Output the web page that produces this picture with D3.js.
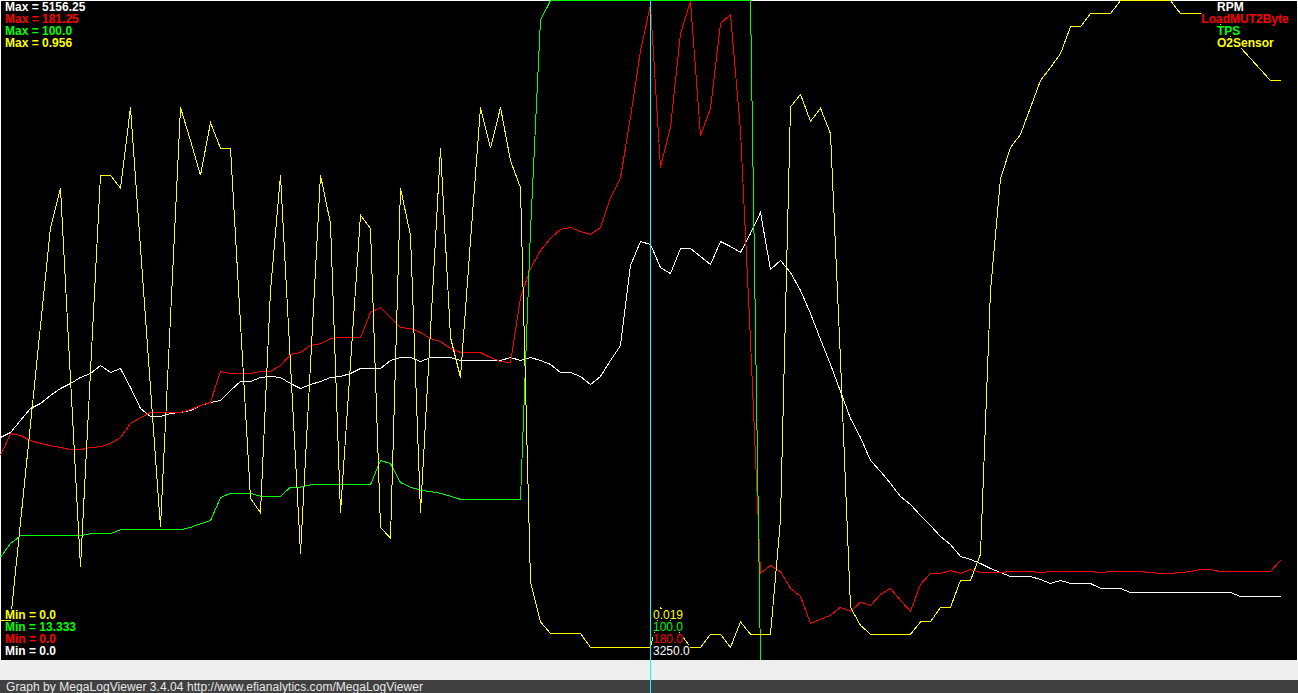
<!DOCTYPE html>
<html><head><meta charset="utf-8">
<script src="https://cdn.jsdelivr.net/npm/d3@7/dist/d3.min.js"></script>
<style>
html,body{margin:0;padding:0;background:#fff;overflow:hidden}
svg{display:block}
</style></head><body>
<svg id="chart" width="1298" height="693"></svg>
<script>
// ---- data (one sample every log record) ----
const seriesNames = ["RPM", "LoadMUT2Byte", "TPS", "O2Sensor"];
const seriesMin = [0, 0, 13.333, 0];
const seriesMax = [5156.25, 181.25, 100, 0.956];
const minLabels = ["0.0", "0.0", "13.333", "0.0"];
const maxLabels = ["5156.25", "181.25", "100.0", "0.956"];
const cursorIndex = 65;

const rpm = [1742,1781,1875,1969,2008,2070,2125,2164,2211,2242,
 2305,2250,2281,2133,1969,1906,1906,1930,1938,1953,
 1992,2016,2031,2109,2180,2180,2211,2219,2211,2164,
 2125,2156,2180,2211,2219,2242,2281,2281,2281,2344,
 2367,2367,2336,2367,2367,2367,2344,2344,2344,2344,
 2344,2367,2344,2367,2344,2313,2250,2250,2219,2156,
 2219,2344,2461,3086,3273,3250,3070,3023,3219,3219,
 3156,3094,3273,3234,3188,3336,3500,3055,3125,3031,
 2891,2711,2508,2313,2102,1891,1742,1563,1477,1383,
 1281,1219,1133,1055,969,906,813,789,758,719,
 688,656,656,656,633,602,625,602,602,602,
 563,563,563,531,531,531,531,531,531,531,
 531,531,531,531,500,500,500,500,500];

const load = [56.3,62.3,61.8,60.4,59.6,59.0,58.5,57.9,57.9,58.5,
 58.7,59.6,61.2,65.1,66.7,68.1,68.1,68.1,68.1,68.9,
 70.0,70.9,79.4,78.8,78.8,78.8,79.4,79.4,81.0,84.0,
 84.6,86.5,87.0,88.4,88.7,88.7,88.7,95.6,96.9,94.2,
 91.4,91.2,90.1,88.4,87.6,85.7,84.6,84.6,84.6,83.2,
 82.1,81.8,99.7,107.6,112.6,115.9,118.4,118.9,117.8,117.0,
 118.9,127.1,132.6,149.1,167.5,180.0,135.4,146.4,172.2,181.0,
 144.2,151.6,174.9,177.4,145.5,87.9,23.9,26.1,24.4,19.8,
 17.6,10.2,11.3,12.4,14.6,13.5,16.0,15.1,18.1,19.8,
 16.5,13.5,20.9,23.9,23.9,24.7,23.9,25.0,24.2,24.2,
 24.2,24.4,24.4,24.4,24.2,24.4,24.4,24.4,24.4,24.4,
 24.2,24.4,24.4,24.4,24.4,24.2,23.9,23.9,24.2,24.4,
 25.0,25.0,24.4,24.4,24.4,24.4,24.4,24.4,27.5];

const tps = [26.9,28.7,29.7,29.7,29.7,29.7,29.7,29.7,29.7,30.0,
 30.0,30.0,30.5,30.5,30.5,30.5,30.5,30.5,30.5,30.8,
 31.3,31.7,34.7,35.3,35.3,35.3,34.9,34.9,34.9,36.1,
 36.1,36.4,36.4,36.4,36.4,36.4,36.4,36.4,39.6,39.2,
 36.7,36.1,35.7,35.5,35.3,34.9,34.5,34.5,34.5,34.5,
 34.5,34.5,34.5,69.8,97.4,100,100,100,100,100,
 100,100,100,100,100,100,100,100,100,100,
 100,100,100,100,100,100,13.333,13.333,13.333,13.333,
 13.333,13.333,13.333,13.333,13.333,13.333,13.333,13.333,13.333,13.333,
 13.333,13.333,13.333,13.333,13.333,13.333,13.333,13.333,13.333,13.333,
 13.333,13.333,13.333,13.333,13.333,13.333,13.333,13.333,13.333,13.333,
 13.333,13.333,13.333,13.333,13.333,13.333,13.333,13.333,13.333,13.333,
 13.333,13.333,13.333,13.333,13.333,13.333,13.333,13.333,13.333];

const o2 = [0.058,0.058,0.200,0.342,0.485,0.627,0.684,0.408,0.135,0.419,
 0.703,0.703,0.684,0.801,0.598,0.395,0.193,0.497,0.801,0.753,
 0.703,0.779,0.742,0.742,0.488,0.235,0.214,0.536,0.703,0.429,
 0.155,0.429,0.703,0.633,0.214,0.430,0.645,0.626,0.193,0.177,
 0.684,0.616,0.214,0.478,0.742,0.468,0.410,0.608,0.801,0.742,
 0.801,0.724,0.685,0.114,0.056,0.039,0.039,0.039,0.039,0.019,
 0.019,0.019,0.019,0.019,0.019,0.019,0.077,0.058,0.039,0.019,
 0.019,0.038,0.038,0.019,0.056,0.038,0.038,0.038,0.204,0.802,
 0.820,0.781,0.800,0.763,0.435,0.077,0.051,0.038,0.038,0.038,
 0.038,0.038,0.056,0.056,0.077,0.077,0.116,0.116,0.154,0.536,
 0.698,0.743,0.762,0.801,0.840,0.859,0.879,0.918,0.918,0.937,
 0.937,0.937,0.956,0.956,0.956,0.956,0.956,0.956,0.937,0.937,
 0.937,0.937,0.921,0.904,0.888,0.872,0.856,0.840,0.840];

const seriesValues = [rpm, load, tps, o2];
const sampleIndex = rpm.map((d, i) => i);

// ---- drawing ----
const W = 1298, H = 693, plotH = 660, plotW = 1280;
const colors = ["#ffffff", "#ff0000", "#00ff00", "#ffff00"];
const svg = d3.select("#chart");
const FONT = "'Liberation Sans', Arial, sans-serif";

svg.append("rect").attr("x", 0).attr("y", 0).attr("width", W).attr("height", plotH).attr("fill", "#000");
svg.append("rect").attr("x", 0.5).attr("y", 0.5).attr("width", W - 1).attr("height", plotH).attr("fill", "none").attr("stroke", "#ffffff");

const x = d3.scaleLinear().domain([0, sampleIndex.length - 1]).range([0, plotW]);
const yScales = seriesNames.map((n, k) => d3.scaleLinear().domain([seriesMin[k], seriesMax[k]]).range([plotH, 0]));

const g = svg.append("g").attr("transform", "translate(0.5,0.5)");
seriesNames.forEach((n, k) => {
  const line = d3.line().x((d, i) => x(sampleIndex[i])).y(d => yScales[k](d));
  g.append("path").datum(seriesValues[k]).attr("d", line)
    .attr("fill", "none").attr("stroke", colors[k]).attr("stroke-width", 1)
    .attr("shape-rendering", "crispEdges");
});

// footer bands
svg.append("rect").attr("x", 0).attr("y", plotH).attr("width", W).attr("height", 20).attr("fill", "#efefef");
svg.append("rect").attr("x", 0).attr("y", 680).attr("width", W).attr("height", 13).attr("fill", "#404040");
svg.append("text").attr("x", 6).attr("y", 691).attr("fill", "#e8e8e8")
  .attr("textLength", 417).attr("lengthAdjust", "spacing")
  .style("font", "12px " + FONT).text("Graph by MegaLogViewer 3.4.04 http://www.efianalytics.com/MegaLogViewer");

// cursor line
const cx = Math.round(x(cursorIndex)) + 0.5;
svg.append("line").attr("x1", cx).attr("x2", cx).attr("y1", 0).attr("y2", H)
  .attr("stroke", "#00ffff").attr("stroke-width", 1).attr("shape-rendering", "crispEdges");

function label(tx, ty, txt, color, weight, anchorRight) {
  const t = svg.append("text").attr("x", tx).attr("y", ty).attr("fill", color)
    .style("font", weight + " 12px " + FONT).text(txt);
  const bb = t.node().getBBox();
  if (anchorRight !== undefined) {
    const nx = Math.min(tx, anchorRight - bb.width);
    t.attr("x", nx);
  }
  const b2 = t.node().getBBox();
  svg.insert("rect", () => t.node()).attr("x", b2.x).attr("y", ty - 10)
    .attr("width", b2.width).attr("height", 11).attr("fill", "#000");
  return t;
}

// Max labels (top-left)
seriesNames.forEach((n, k) => label(5, 11 + 12 * k, "Max = " + maxLabels[k], colors[k], "bold"));
// Min labels (bottom-left, reversed order)
[3, 2, 1, 0].forEach((k, r) => label(5, 619 + 12 * r, "Min = " + minLabels[k], colors[k], "bold"));
// legend (top-right)
seriesNames.forEach((n, k) => label(1217, 11 + 12 * k, n, colors[k], "bold", 1289));
// cursor values
const fmt = [v => v.toFixed(1), v => v.toFixed(1), v => v.toFixed(1), v => v.toFixed(3)];
[3, 2, 1, 0].forEach((k, r) => label(cx + 2.5, 619 + 12 * r, fmt[k](seriesValues[k][cursorIndex]), colors[k], "normal"));
</script>
</body></html>
